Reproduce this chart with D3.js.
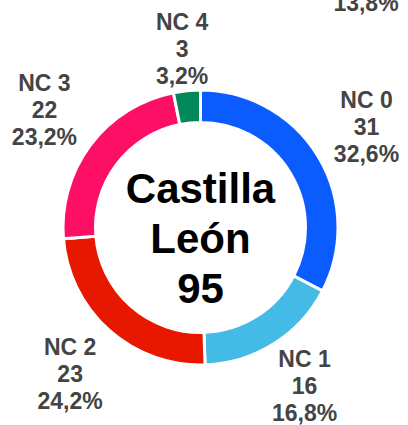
<!DOCTYPE html>
<html>
<head>
<meta charset="utf-8">
<script src="https://cdn.jsdelivr.net/npm/d3@7"></script>
<style>
  html, body { margin: 0; padding: 0; background: #fff; }
  svg { display: block; font-family: "Liberation Sans", Arial, sans-serif; }
</style>
</head>
<body>
<div id="chart"></div>
<script>
const categories = ["NC 0", "NC 1", "NC 2", "NC 3", "NC 4"];
const values = [31, 16, 23, 22, 3];
const colors = ["#0b5cff", "#44bae6", "#e81800", "#fd0f66", "#00885a"];
const titleLines = ["Castilla", "León"];
// cut-off label of the neighbouring chart, visible at the top edge
const strayLabel = "13,8%";

const width = 408, height = 425;
const cx = 200.5, cy = 227.5;
const outerR = 137.5, innerR = 105;

const total = d3.sum(values);
const data = categories.map((c, i) => ({ name: c, value: values[i], color: colors[i] }));

const svg = d3.select("#chart").append("svg")
  .attr("width", width)
  .attr("height", height);

const g = svg.append("g").attr("transform", `translate(${cx}, ${cy})`);

const pie = d3.pie().sort(null).value(d => d.value);
const arc = d3.arc().innerRadius(innerR).outerRadius(outerR);
const arcs = pie(data);

g.selectAll("path.slice")
  .data(arcs)
  .enter()
  .append("path")
  .attr("class", "slice")
  .attr("d", arc)
  .attr("fill", d => d.data.color)
  .attr("stroke", "#fff")
  .attr("stroke-width", 3);

// labels: push a 3-line box out along the mid angle until it clears the ring,
// then keep it inside the drawing area
const fmt = v => d3.format(".1f")(v).replace(".", ",") + "%";
const lineH = 27, fontSize = 23;
const clearR = 148;
const capH = 16.5;
const halfH = (2 * lineH + capH) / 2;

const labels = g.selectAll("g.label")
  .data(arcs)
  .enter()
  .append("g")
  .attr("class", "label");

labels.each(function (d) {
  const a = (d.startAngle + d.endAngle) / 2;
  const dx = Math.sin(a), dy = -Math.cos(a);
  const lines = [d.data.name, String(d.data.value), fmt(d.value / total * 100)];
  const sel = d3.select(this);
  const t = sel.append("text")
    .attr("text-anchor", "middle")
    .attr("font-size", fontSize)
    .attr("font-weight", "bold")
    .attr("fill", "#444");
  lines.forEach((l, i) => {
    t.append("tspan").attr("x", 0).attr("y", i * lineH).text(l);
  });
  const halfW = t.node().getBBox().width / 2;
  const dist = clearR + Math.abs(dx) * halfW + Math.abs(dy) * halfH;
  // block centre in page coordinates
  let px = cx + dx * dist, py = cy + dy * dist;
  px = Math.max(halfW + 4, Math.min(width - 4 - halfW, px));
  py = Math.max(13 + halfH, Math.min(421 - halfH, py));
  const firstBase = py - halfH + capH;
  sel.attr("transform", `translate(${px - cx}, ${firstBase - cy})`);
});

// centre title
const title = g.append("text")
  .attr("text-anchor", "middle")
  .attr("font-size", 42)
  .attr("font-weight", "bold")
  .attr("fill", "#000");
titleLines.concat([String(total)]).forEach((l, i) => {
  title.append("tspan").attr("x", 0).attr("y", -25 + i * 50).text(l);
});

svg.append("text")
  .attr("x", 366)
  .attr("y", 11)
  .attr("text-anchor", "middle")
  .attr("font-size", fontSize)
  .attr("font-weight", "bold")
  .attr("fill", "#444")
  .text(strayLabel);
</script>
</body>
</html>
